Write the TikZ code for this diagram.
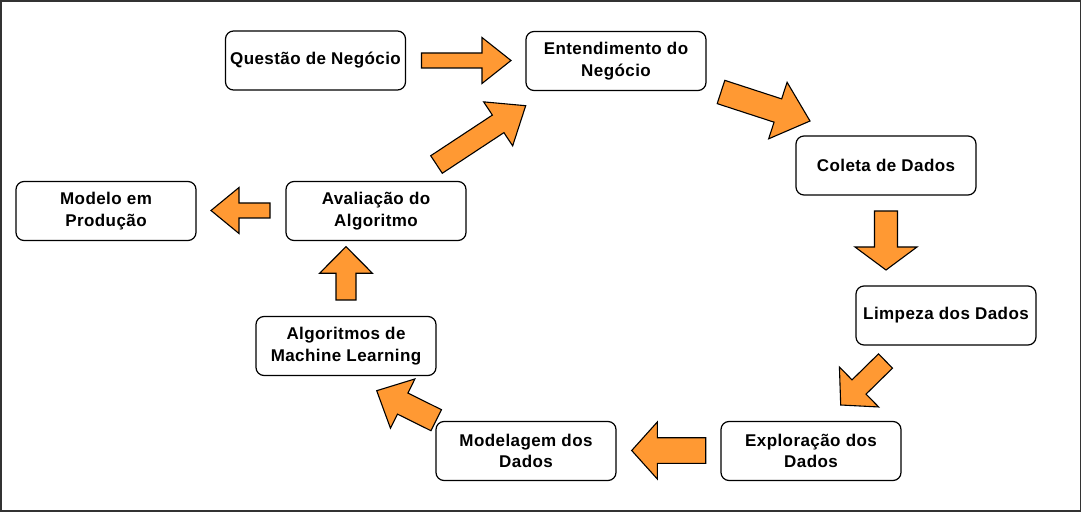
\documentclass[tikz,border=0pt]{standalone}
\usepackage{fontspec}
\setmainfont{Liberation Sans}
\usetikzlibrary{calc}
\definecolor{orangefill}{RGB}{255,153,51}
\definecolor{framegray}{RGB}{51,51,51}
\tikzset{
  stepbox/.style={draw=black, line width=1.2pt, rounded corners=8pt, fill=white,
    minimum width=180pt, minimum height=59pt, align=center, inner sep=2pt,
    font=\fontsize{17}{21.5}\selectfont\bfseries\addfontfeatures{LetterSpace=2.5}},
  barrow/.style={draw=black, line width=1.1pt, fill=orangefill, line join=miter}
}
\newcommand\blockarrow[5]{%
  \coordinate (hb) at ($(#2)!#5!(#1)$);
  \draw[barrow] ($(#1)!#3/2!90:(#2)$) -- ($(hb)!#3/2!90:(#2)$) -- ($(hb)!#4/2!90:(#2)$)
    -- (#2) -- ($(hb)!#4/2!-90:(#2)$) -- ($(hb)!#3/2!-90:(#2)$) -- ($(#1)!#3/2!-90:(#2)$) -- cycle;
}
\begin{document}
\begin{tikzpicture}[x=1pt,y=-1pt]
\useasboundingbox (0,0) rectangle (1082,513);
\draw[framegray, line width=1.6pt] (1,1) rectangle (1080.5,511);

\node[stepbox] (q) at (315.5,60.5) {Questão de Negócio};
\node[stepbox] (e) at (616,61) {Entendimento do\\Negócio};
\node[stepbox] (c) at (886,165.5) {Coleta de Dados};
\node[stepbox] (l) at (946,315.5) {Limpeza dos Dados};
\node[stepbox] (x) at (811,451) {Exploração dos\\Dados};
\node[stepbox] (m) at (526,451) {Modelagem dos\\Dados};
\node[stepbox] (a) at (346,346) {Algoritmos de\\Machine Learning};
\node[stepbox] (v) at (376,211) {Avaliação do\\Algoritmo};
\node[stepbox] (p) at (106,211) {Modelo em\\Produção};

% arrow end points
\coordinate (a1s) at (421.5,60.5);  \coordinate (a1e) at (511,60.5);
\coordinate (a2s) at (721,92);      \coordinate (a2e) at (810,121);
\coordinate (a3s) at (886,211);     \coordinate (a3e) at (886,270);
\coordinate (a4s) at (885.5,361);   \coordinate (a4e) at (840.7,405);
\coordinate (a5s) at (705.7,450.5); \coordinate (a5e) at (631.7,450.5);
\coordinate (a6s) at (436.2,420.2); \coordinate (a6e) at (376.7,390.7);
\coordinate (a7s) at (346,300);     \coordinate (a7e) at (346,246.7);
\coordinate (a8s) at (436.5,164.5); \coordinate (a8e) at (525.7,105.7);
\coordinate (a9s) at (270,210.5);   \coordinate (a9e) at (211,210.5);

\blockarrow{a1s}{a1e}{15pt}{46pt}{29pt}
\blockarrow{a2s}{a2e}{24.5pt}{59.5pt}{33.8pt}
\blockarrow{a3s}{a3e}{23pt}{62pt}{23pt}
\blockarrow{a4s}{a4e}{20pt}{56pt}{25.7pt}
\blockarrow{a5s}{a5e}{25.6pt}{57pt}{25.6pt}
\blockarrow{a6s}{a6e}{23.5pt}{55pt}{29pt}
\blockarrow{a7s}{a7e}{20pt}{53pt}{26.6pt}
\blockarrow{a8s}{a8e}{21pt}{52.7pt}{33pt}
\blockarrow{a9s}{a9e}{15pt}{46pt}{28pt}
\end{tikzpicture}
\end{document}
